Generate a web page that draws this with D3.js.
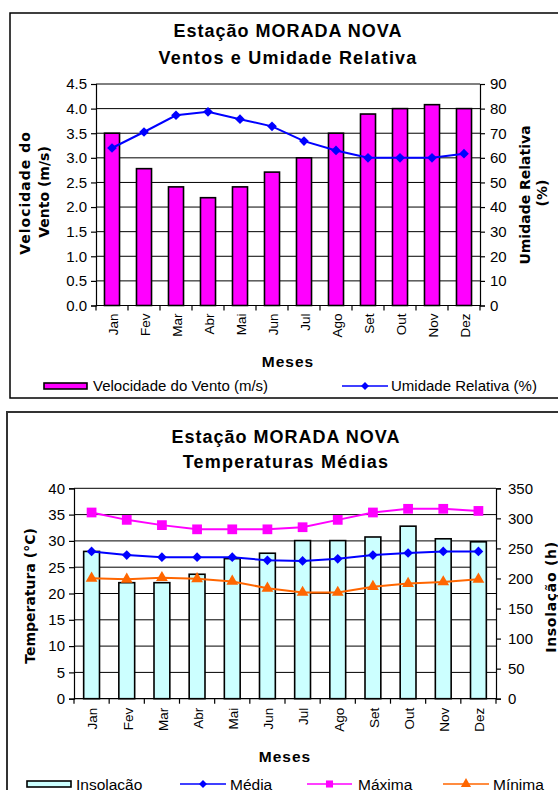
<!DOCTYPE html>
<html>
<head>
<meta charset="utf-8">
<script src="https://cdn.jsdelivr.net/npm/d3@7"></script>
<style>
  html, body { margin: 0; padding: 0; background: #fff; }
  svg { display: block; }
  text { font-family: "Liberation Sans", Arial, sans-serif; fill: #000; }
</style>
</head>
<body>
<svg id="chart" width="558" height="790"></svg>
<script>
// ---------- DATA ----------
const months = ["Jan","Fev","Mar","Abr","Mai","Jun","Jul","Ago","Set","Out","Nov","Dez"];
// Chart 1
const vento   = [3.5, 2.78, 2.41, 2.19, 2.41, 2.71, 3.0, 3.5, 3.89, 4.0, 4.08, 4.0];
const umidade = [64, 70.5, 77.3, 78.7, 75.7, 72.8, 66.8, 63, 60, 60, 60, 61.7];
const ventoTicks   = [0,0.5,1,1.5,2,2.5,3,3.5,4,4.5];
const umidadeTicks = [0,10,20,30,40,50,60,70,80,90];
// Chart 2
const insolacao = [245, 193, 193, 207, 233, 242, 263, 263, 269, 287, 266, 261];
const media     = [28.0, 27.3, 26.9, 26.9, 26.9, 26.3, 26.2, 26.6, 27.3, 27.7, 28.0, 28.0];
const maxima    = [35.4, 34.0, 33.0, 32.2, 32.2, 32.2, 32.6, 34.0, 35.4, 36.1, 36.1, 35.7];
const minima    = [22.9, 22.7, 23.0, 22.8, 22.3, 21.0, 20.2, 20.2, 21.3, 21.9, 22.2, 22.7];
const tempTicks = [0,5,10,15,20,25,30,35,40];
const insolTicks = [0,50,100,150,200,250,300,350];

const svg = d3.select("#chart");
svg.append("rect").attr("width",558).attr("height",790).attr("fill","#fff");

function drawChart(cfg) {
  const g = svg.append("g");
  // frame
  g.append("rect").attr("x",cfg.frame[0]).attr("y",cfg.frame[1])
    .attr("width",cfg.frame[2]).attr("height",cfg.frame[3])
    .attr("fill","none").attr("stroke",cfg.frameColor).attr("stroke-width",cfg.frameWidth);

  const x = d3.scaleBand().domain(months).range([cfg.x0, cfg.x1]).padding(0);
  const yL = d3.scaleLinear().domain(cfg.leftDomain).range([cfg.y1, cfg.y0]);
  const yR = d3.scaleLinear().domain(cfg.rightDomain).range([cfg.y1, cfg.y0]);

  // gridlines
  g.append("g").selectAll("line").data(cfg.leftTicks.filter(d=>d>0)).join("line")
    .attr("x1",cfg.x0).attr("x2",cfg.x1)
    .attr("y1",d=>yL(d)).attr("y2",d=>yL(d))
    .attr("stroke","#000").attr("stroke-width",1);

  // bars
  const bw = x.bandwidth()*cfg.barRatio;
  const yBar = cfg.barAxis === "left" ? yL : yR;
  g.append("g").selectAll("rect").data(cfg.bars).join("rect")
    .attr("x",(d,i)=>x(months[i]) + (x.bandwidth()-bw)/2)
    .attr("y",d=>yBar(d))
    .attr("width",bw)
    .attr("height",d=>yBar(0)-yBar(d))
    .attr("fill",cfg.barColor).attr("stroke","#000").attr("stroke-width",1.6);

  // axes
  const leftAx = g.append("g").attr("transform",`translate(${cfg.x0},0)`)
    .call(d3.axisLeft(yL).tickValues(cfg.leftTicks).tickSize(5).tickPadding(4).tickFormat(cfg.leftFmt));
  const rightAx = g.append("g").attr("transform",`translate(${cfg.x1},0)`)
    .call(d3.axisRight(yR).tickValues(cfg.rightTicks).tickSize(5).tickPadding(cfg.rightPad).tickFormat(d3.format("d")));
  [leftAx,rightAx].forEach(a=>{
    a.select(".domain").attr("stroke","#000").attr("stroke-width",1.2);
    a.selectAll(".tick line").attr("stroke","#000").attr("stroke-width",1.2);
    a.selectAll(".tick text").style("font-size","15px").style("font-family",'"Liberation Sans", Arial, sans-serif').attr("fill","#000");
  });
  // bottom axis line
  g.append("line").attr("x1",cfg.x0).attr("x2",cfg.x1).attr("y1",yL(0)).attr("y2",yL(0))
    .attr("stroke","#000").attr("stroke-width",1.2);
  // category boundary ticks
  const bounds = months.map(m=>x(m)).concat([cfg.x1]);
  g.append("g").selectAll("line").data(bounds).join("line")
    .attr("x1",d=>d).attr("x2",d=>d).attr("y1",yL(0)).attr("y2",yL(0)+5)
    .attr("stroke","#000").attr("stroke-width",1.2);
  // month labels
  g.append("g").selectAll("text").data(months).join("text")
    .attr("transform",d=>`translate(${x(d)+x.bandwidth()/2+1},${yL(0)+cfg.monthGap}) rotate(-90)`)
    .attr("text-anchor","end").attr("dy","0.36em")
    .style("font-size","13.5px").text(d=>d);

  // lines
  cfg.lines.forEach(L=>{
    const yS = L.axis === "left" ? yL : yR;
    const line = d3.line().x((d,i)=>x(months[i])+x.bandwidth()/2).y(d=>yS(d));
    g.append("path").datum(L.data).attr("d",line)
      .attr("fill","none").attr("stroke",L.color).attr("stroke-width",L.width);
    const sym = d3.symbol().type(L.symbol).size(L.size);
    g.append("g").selectAll("path").data(L.data).join("path")
      .attr("transform",(d,i)=>`translate(${x(months[i])+x.bandwidth()/2},${yS(d)})`)
      .attr("d",sym).attr("fill",L.color);
  });

  // titles
  cfg.titles.forEach(t=>{
    g.append("text").attr("x",cfg.titleX).attr("y",t.y).attr("text-anchor","middle")
      .style("font-size","18px").style("font-weight","bold").style("letter-spacing",t.ls+"px").text(t.text);
  });
  // x title
  g.append("text").attr("x",cfg.mesesX).attr("y",cfg.mesesY).attr("text-anchor","middle")
    .style("font-size","15.5px").style("font-weight","bold").style("letter-spacing","1px").text("Meses");
  // y titles
  cfg.yTitles.forEach(t=>{
    g.append("text").attr("transform",`translate(${t.x},${t.y}) rotate(-90)`)
      .attr("text-anchor","middle").attr("dy","0.36em")
      .style("font-family",'"DejaVu Sans", Verdana, sans-serif')
      .style("letter-spacing",(t.ls||0)+"px")
      .style("font-size","14px").style("font-weight","bold").text(t.text);
  });
  // legend
  cfg.legend.forEach(Lg=>{
    if (Lg.type === "bar") {
      g.append("rect").attr("x",Lg.x).attr("y",cfg.legendY-3).attr("width",Lg.w).attr("height",6)
        .attr("fill",Lg.color).attr("stroke","#000").attr("stroke-width",1.6);
    } else {
      g.append("line").attr("x1",Lg.x).attr("x2",Lg.x+Lg.w).attr("y1",cfg.legendY).attr("y2",cfg.legendY)
        .attr("stroke",Lg.color).attr("stroke-width",Lg.width);
      g.append("path").attr("transform",`translate(${Lg.x+Lg.w/2},${cfg.legendY})`)
        .attr("d",d3.symbol().type(Lg.symbol).size(Lg.size)).attr("fill",Lg.color);
    }
    g.append("text").attr("x",Lg.tx).attr("y",cfg.legendY).attr("dy","0.36em")
      .style("font-size",cfg.legendFont).text(Lg.text);
  });
}

// Chart 1: Ventos e Umidade Relativa
drawChart({
  frame:[10,13,580,385], frameColor:"#000", frameWidth:1.5,
  x0:96, x1:480, y0:84, y1:305.5,
  leftDomain:[0,4.5], rightDomain:[0,90],
  leftTicks:ventoTicks, rightTicks:umidadeTicks, leftFmt:d3.format(".1f"), rightPad:5,
  bars:vento, barAxis:"left", barRatio:0.47, barColor:"#FF00FF",
  monthGap:8,
  lines:[{data:umidade, axis:"right", color:"#0000FF", width:2, symbol:d3.symbolDiamond2, size:60}],
  titleX:288,
  titles:[{y:37, text:"Estação MORADA NOVA", ls:1},{y:64, text:"Ventos e Umidade Relativa", ls:1.2}],
  mesesX:288, mesesY:367,
  yTitles:[{x:25,y:193,text:"Velocidade do", ls:1},{x:44,y:192,text:"Vento (m/s)"},
           {x:525,y:195,text:"Umidade Relativa"},{x:542,y:193,text:"(%)"}],
  legendY:386, legendFont:"15px",
  legend:[{type:"bar", x:44, w:43, tx:93, color:"#FF00FF", text:"Velocidade do Vento (m/s)"},
          {type:"line", x:342, w:46, tx:391, color:"#0000FF", width:1.5, symbol:d3.symbolDiamond2, size:40, text:"Umidade Relativa (%)"}]
});

// Chart 2: Temperaturas Médias
drawChart({
  frame:[7,412,600,420], frameColor:"#333", frameWidth:2,
  x0:74, x1:496, y0:488.3, y1:698.7,
  leftDomain:[0,40], rightDomain:[0,350],
  leftTicks:tempTicks, rightTicks:insolTicks, leftFmt:d3.format("d"), rightPad:7,
  bars:insolacao, barAxis:"right", barRatio:0.45, barColor:"#CCFFFF",
  monthGap:9,
  lines:[{data:maxima, axis:"left", color:"#FF00FF", width:2, symbol:d3.symbolSquare, size:95},
         {data:media, axis:"left", color:"#0000FF", width:2, symbol:d3.symbolDiamond2, size:60},
         {data:minima, axis:"left", color:"#FF6600", width:2, symbol:d3.symbolTriangle, size:60}],
  titleX:286,
  titles:[{y:443, text:"Estação MORADA NOVA", ls:1},{y:468, text:"Temperaturas Médias", ls:1.2}],
  mesesX:285, mesesY:762,
  yTitles:[{x:30,y:596,text:"Temperatura (°C)"},{x:551,y:597,text:"Insolação (h)", ls:0.7}],
  legendY:784, legendFont:"15.5px",
  legend:[{type:"bar", x:27, w:44, tx:76, color:"#CCFFFF", text:"Insolação"},
          {type:"line", x:180, w:46, tx:230, color:"#0000FF", width:1.5, symbol:d3.symbolDiamond2, size:40, text:"Média"},
          {type:"line", x:307, w:45, tx:358, color:"#FF00FF", width:1.5, symbol:d3.symbolSquare, size:50, text:"Máxima"},
          {type:"line", x:443, w:46, tx:493, color:"#FF6600", width:1.5, symbol:d3.symbolTriangle, size:45, text:"Mínima"}]
});
</script>
</body>
</html>
